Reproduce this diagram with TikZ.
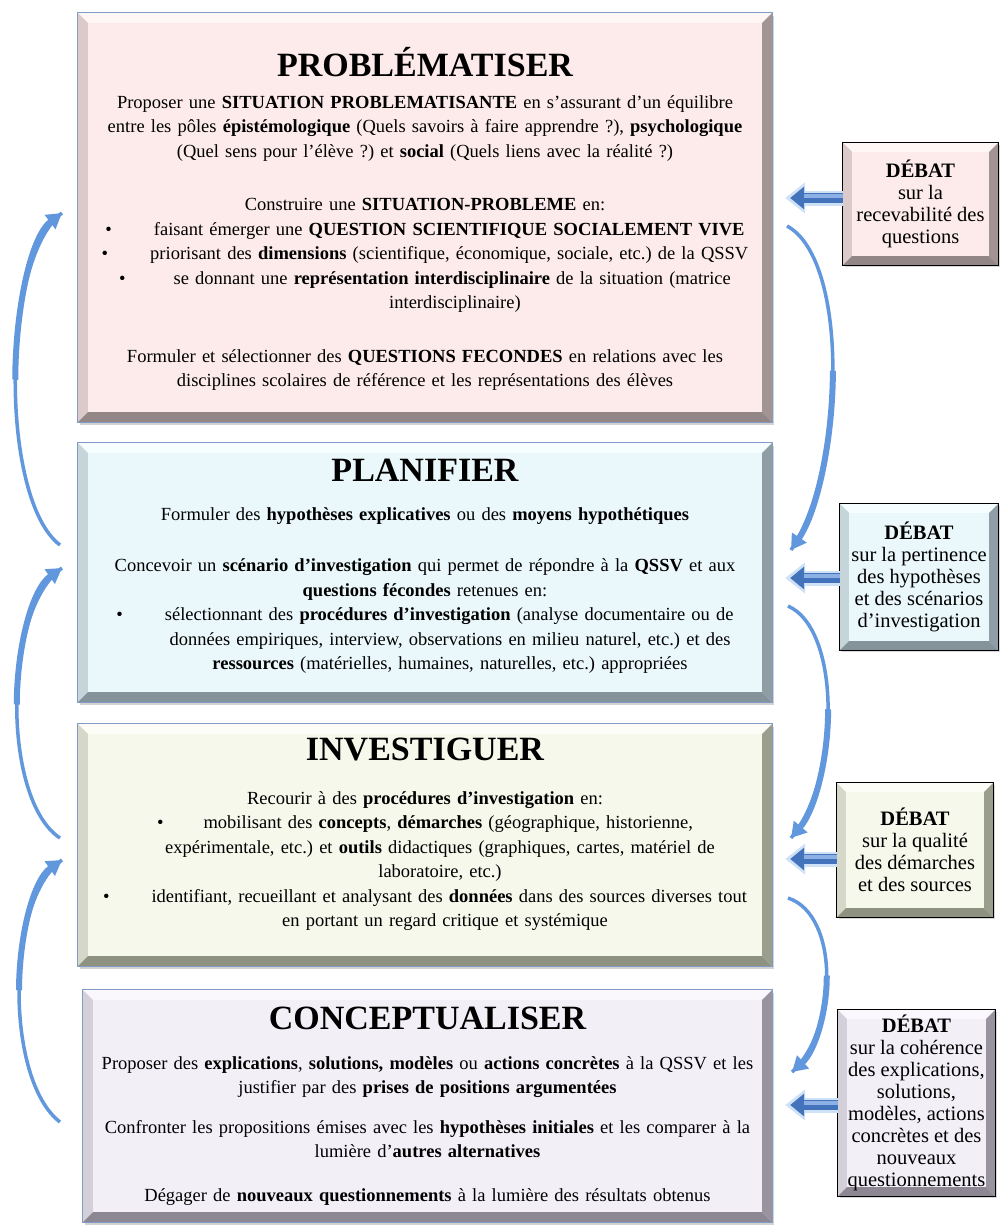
\documentclass[tikz,border=0pt]{standalone}
\usepackage{fontspec}
\setmainfont{Liberation Serif}
\usepackage{tikz}
\usetikzlibrary{
  arrows.meta,   % Triangle 箭头
  calc,          % 坐标计算
  positioning,   % 节点相对定位
  shadows        % 阴影
}
\frenchspacing
% --- 颜色 ---
\definecolor{probfill}{HTML}{FDEBEB}
\definecolor{probtop}{HTML}{FFF6F6}
\definecolor{probleft}{HTML}{DCC9C9}
\definecolor{probright}{HTML}{A39494}
\definecolor{probbot}{HTML}{938686}
\definecolor{planfill}{HTML}{EAF8FB}
\definecolor{plantop}{HTML}{F6FDFE}
\definecolor{planleft}{HTML}{C5D5DA}
\definecolor{planright}{HTML}{8F9EA4}
\definecolor{planbot}{HTML}{84939A}
\definecolor{invfill}{HTML}{F6F8EB}
\definecolor{invtop}{HTML}{FCFDF6}
\definecolor{invleft}{HTML}{D5D8C8}
\definecolor{invright}{HTML}{9A9E8C}
\definecolor{invbot}{HTML}{8E9281}
\definecolor{concfill}{HTML}{F3EFF7}
\definecolor{conctop}{HTML}{FAF8FC}
\definecolor{concleft}{HTML}{D4D0D9}
\definecolor{concright}{HTML}{98939E}
\definecolor{concbot}{HTML}{8C8792}
\definecolor{frameblue}{HTML}{7F9BC6}
\definecolor{cycleblue}{HTML}{6197DC}
\definecolor{arrowdark}{HTML}{4373BA}
\definecolor{arrowlight}{HTML}{8DB1E4}
\definecolor{glowblue}{HTML}{CFE1F7}

% 斜面边框: 节点, 上, 左, 右, 下, 宽度, 边线
\newcommand{\bevelframe}[7]{%
  \fill[#2] (#1.north west) -- (#1.north east) -- ([shift={(-#6,#6)}]#1.north east) -- ([shift={(#6,#6)}]#1.north west) -- cycle;
  \fill[#3] (#1.north west) -- ([shift={(#6,#6)}]#1.north west) -- ([shift={(#6,-#6)}]#1.south west) -- (#1.south west) -- cycle;
  \fill[#4] (#1.north east) -- ([shift={(-#6,#6)}]#1.north east) -- ([shift={(-#6,-#6)}]#1.south east) -- (#1.south east) -- cycle;
  \fill[#5] (#1.south west) -- (#1.south east) -- ([shift={(-#6,-#6)}]#1.south east) -- ([shift={(#6,-#6)}]#1.south west) -- cycle;
  \draw[#7] (#1.north west) rectangle (#1.south east);
}

\tikzset{
  mainbox/.style={
    minimum width=694pt,
    inner sep=0pt,
    drop shadow={shadow xshift=2pt, shadow yshift=-3pt, opacity=.35, fill=gray}
  },
  debatebox/.style={
    inner sep=0pt,
    drop shadow={shadow xshift=2pt, shadow yshift=-2pt, opacity=.3, fill=gray}
  },
  debatetext/.style={
    align=center,
    inner sep=0pt,
    font=\fontsize{20.5}{22}\selectfont
  },
  step title/.style={
    font=\fontsize{34}{40}\selectfont\bfseries,
    inner sep=0pt
  },
  bodytext/.style={
    font=\fontsize{18.5}{24.5}\selectfont,
    align=center,
    text width=760pt,
    inner sep=0pt
  },
  cycle tail/.style={
    draw=cycleblue,
    line width=3.5pt
  },
  cycle arrow/.style={
    draw=cycleblue,
    line width=6pt,
    -{Triangle[width=17pt,length=15pt]}
  },
  debate glow/.style={
    draw=glowblue,
    line width=15pt,
    -{Triangle[width=30pt,length=20pt]},
    shorten >=13pt
  },
  debate arrow/.style={
    draw=arrowdark,
    line width=10pt,
    -{Triangle[width=22pt,length=14pt]},
    shorten >=18pt
  },
  debate shine/.style={
    draw=arrowlight,
    line width=3.5pt,
    shorten >=32pt
  }
}

\begin{document}
\begin{tikzpicture}[x=1pt, y=-1pt]
    \useasboundingbox[fill=white] (0,0) rectangle (999,1229);

    % --- 四个阶段 ---
    \node[mainbox, fill=probfill, minimum height=409pt] (prob) at (425,217.5) {};
    \bevelframe{prob}{probtop}{probleft}{probright}{probbot}{10}{frameblue, line width=0.8pt}
    \node[step title] (probtitle) at (425,62) {PROBLÉMATISER};
    \node[bodytext, anchor=north] (probbody) at (425,95) {%
      Proposer une \textbf{SITUATION PROBLEMATISANTE} en s’assurant d’un équilibre\\
      entre les pôles \textbf{épistémologique} (Quels savoirs à faire apprendre ?), \textbf{psychologique}\\
      (Quel sens pour l’élève ?) et \textbf{social} (Quels liens avec la réalité ?)\\[29pt]
      Construire une \textbf{SITUATION-PROBLEME} en:\\
      •\hspace{42pt}faisant émerger une \textbf{QUESTION SCIENTIFIQUE SOCIALEMENT VIVE}\\
      •\hspace{42pt}priorisant des \textbf{dimensions} (scientifique, économique, sociale, etc.) de la QSSV\\
      •\hspace{48pt}se donnant une \textbf{représentation interdisciplinaire} de la situation (matrice\\
      \hspace*{60pt}interdisciplinaire)\\[29pt]
      Formuler et sélectionner des \textbf{QUESTIONS FECONDES} en relations avec les\\
      disciplines scolaires de référence et les représentations des élèves};

    \node[mainbox, fill=planfill, minimum height=259pt] (plan) at (425,572.5) {};
    \bevelframe{plan}{plantop}{planleft}{planright}{planbot}{10}{frameblue, line width=0.8pt}
    \node[step title] (plantitle) at (425,470) {PLANIFIER};
    \node[bodytext, anchor=north] (planbody) at (425,507) {%
      Formuler des \textbf{hypothèses explicatives} ou des \textbf{moyens hypothétiques}\\[27pt]
      Concevoir un \textbf{scénario d’investigation} qui permet de répondre à la \textbf{QSSV} et aux\\
      \textbf{questions fécondes} retenues en:\\
      •\hspace{42pt}sélectionnant des \textbf{procédures d’investigation} (analyse documentaire ou de\\
      \hspace*{50pt}données empiriques, interview, observations en milieu naturel, etc.) et des\\
      \hspace*{50pt}\textbf{ressources} (matérielles, humaines, naturelles, etc.) appropriées};

    \node[mainbox, fill=invfill, minimum height=242pt] (inv) at (425,845) {};
    \bevelframe{inv}{invtop}{invleft}{invright}{invbot}{10}{frameblue, line width=0.8pt}
    \node[step title] (invtitle) at (425,749) {INVESTIGUER};
    \node[bodytext, anchor=north] (invbody) at (425,791) {%
      Recourir à des \textbf{procédures d’investigation} en:\\
      •\hspace{40pt}mobilisant des \textbf{concepts}, \textbf{démarches} (géographique, historienne,\\
      \hspace*{30pt}expérimentale, etc.) et \textbf{outils} didactiques (graphiques, cartes, matériel de\\
      \hspace*{30pt}laboratoire, etc.)\\
      •\hspace{42pt}identifiant, recueillant et analysant des \textbf{données} dans des sources diverses tout\\
      \hspace*{40pt}en portant un regard critique et systémique};

    \node[mainbox, fill=concfill, minimum width=689pt, minimum height=232pt] (conc) at (427.5,1106) {};
    \bevelframe{conc}{conctop}{concleft}{concright}{concbot}{10}{frameblue, line width=0.8pt}
    \node[step title] (conctitle) at (427.5,1018) {CONCEPTUALISER};
    \node[bodytext, anchor=north] (concbody) at (427.5,1056) {%
      Proposer des \textbf{explications}, \textbf{solutions, modèles} ou \textbf{actions concrètes} à la QSSV et les\\
      justifier par des \textbf{prises de positions argumentées}\\[15pt]
      Confronter les propositions émises avec les \textbf{hypothèses initiales} et les comparer à la\\
      lumière d’\textbf{autres alternatives}\\[19pt]
      Dégager de \textbf{nouveaux questionnements} à la lumière des résultats obtenus};

    % --- 辩论框 ---
    \node[debatebox, fill=probfill, minimum width=155pt, minimum height=122pt] (deb1) at (920.5,204) {};
    \bevelframe{deb1}{probtop}{probleft}{probright}{probbot}{9}{black, line width=1pt}
    \node[debatetext] (deb1text) at (deb1) {\textbf{DÉBAT}\\ sur la\\ recevabilité des\\ questions};

    \node[debatebox, fill=planfill, minimum width=158pt, minimum height=146pt] (deb2) at (919,577) {};
    \bevelframe{deb2}{plantop}{planleft}{planright}{planbot}{9}{black, line width=1pt}
    \node[debatetext] (deb2text) at (deb2) {\textbf{DÉBAT}\\ sur la pertinence\\ des hypothèses\\ et des scénarios\\ d’investigation};

    \node[debatebox, fill=invfill, minimum width=156pt, minimum height=134pt] (deb3) at (915,850) {};
    \bevelframe{deb3}{invtop}{invleft}{invright}{invbot}{9}{black, line width=1pt}
    \node[debatetext] (deb3text) at (deb3) {\textbf{DÉBAT}\\ sur la qualité\\ des démarches\\ et des sources};

    \node[debatebox, fill=concfill, minimum width=157pt, minimum height=186pt] (deb4) at (916.5,1103) {};
    \bevelframe{deb4}{conctop}{concleft}{concright}{concbot}{9}{black, line width=1pt}
    \node[debatetext] (deb4text) at (deb4) {\textbf{DÉBAT}\\ sur la cohérence\\ des explications,\\ solutions,\\ modèles, actions\\ concrètes et des\\ nouveaux\\ questionnements};

    % --- 辩论箭头 (指向阶段) ---
    \draw[debate glow] ([yshift=6pt]deb1.west) -- ([yshift=6pt]deb1.west -| prob.east);
    \draw[debate arrow] ([yshift=6pt]deb1.west) -- ([yshift=6pt]deb1.west -| prob.east);
    \draw[debate shine] ([yshift=8pt]deb1.west) -- ([yshift=8pt]deb1.west -| prob.east);

    \draw[debate glow] ([yshift=-1pt]deb2.west) -- ([yshift=-1pt]deb2.west -| plan.east);
    \draw[debate arrow] ([yshift=-1pt]deb2.west) -- ([yshift=-1pt]deb2.west -| plan.east);
    \draw[debate shine] ([yshift=1pt]deb2.west) -- ([yshift=1pt]deb2.west -| plan.east);

    \draw[debate glow] ([yshift=-9pt]deb3.west) -- ([yshift=-9pt]deb3.west -| inv.east);
    \draw[debate arrow] ([yshift=-9pt]deb3.west) -- ([yshift=-9pt]deb3.west -| inv.east);
    \draw[debate shine] ([yshift=-7pt]deb3.west) -- ([yshift=-7pt]deb3.west -| inv.east);

    \draw[debate glow] ([yshift=-2pt]deb4.west) -- ([yshift=-2pt]deb4.west -| conc.east);
    \draw[debate arrow] ([yshift=-2pt]deb4.west) -- ([yshift=-2pt]deb4.west -| conc.east);
    \draw[debate shine] (deb4.west) -- (deb4.west -| conc.east);

    % --- 右侧: 向下进入下一阶段 (细尾, 粗头) ---
    \coordinate (r1a) at (787,226);
    \coordinate (r1m) at (832.9,370.75);
    \coordinate (r1b) at (791,550);
    \draw[cycle tail] (r1a) .. controls (850,260) and (845,470) .. (r1b);
    \draw[cycle arrow] (r1m) .. controls (832.75,437.5) and (818,510) .. (r1b);

    \coordinate (r2a) at (788,606);
    \coordinate (r2m) at (828.1,709.25);
    \coordinate (r2b) at (791,838);
    \draw[cycle tail] (r2a) .. controls (842,630) and (840,780) .. (r2b);
    \draw[cycle arrow] (r2m) .. controls (828.25,757) and (815.5,809) .. (r2b);

    \coordinate (r3a) at (788,898);
    \coordinate (r3m) at (826.75,975.6);
    \coordinate (r3b) at (792,1072);
    \draw[cycle tail] (r3a) .. controls (840,915) and (838,1030) .. (r3b);
    \draw[cycle arrow] (r3m) .. controls (827,1011.75) and (815,1051) .. (r3b);

    % --- 左侧: 向上返回上一阶段 ---
    \coordinate (l1a) at (60,545);
    \coordinate (l1m) at (15.25,379.75);
    \coordinate (l1b) at (62,213);
    \draw[cycle tail] (l1a) .. controls (0,500) and (0,260) .. (l1b);
    \draw[cycle arrow] (l1m) .. controls (15.5,308.25) and (31,236.5) .. (l1b);

    \coordinate (l2a) at (60,838);
    \coordinate (l2m) at (16.75,704.5);
    \coordinate (l2b) at (62,568);
    \draw[cycle tail] (l2a) .. controls (2,800) and (2,610) .. (l2b);
    \draw[cycle arrow] (l2m) .. controls (17,647) and (32,589) .. (l2b);

    \coordinate (l3a) at (60,1122);
    \coordinate (l3m) at (19,990.25);
    \coordinate (l3b) at (62,860);
    \draw[cycle tail] (l3a) .. controls (5,1080) and (5,900) .. (l3b);
    \draw[cycle arrow] (l3m) .. controls (19.25,935) and (33.5,880) .. (l3b);

  \end{tikzpicture}
\end{document}
